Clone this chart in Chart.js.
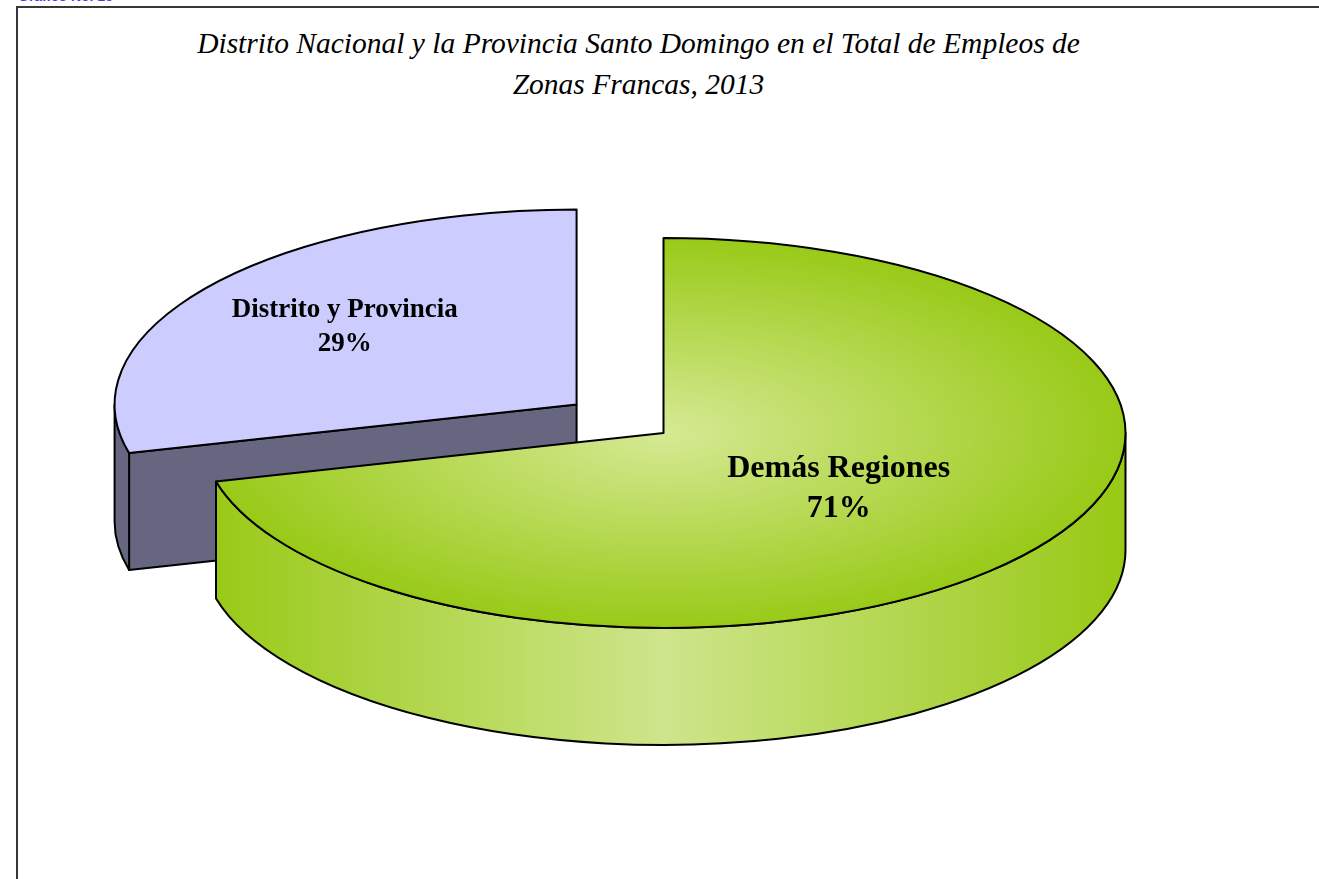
<!DOCTYPE html>
<html>
<head>
<meta charset="utf-8">
<script src="https://cdn.jsdelivr.net/npm/chart.js@4.4.0/dist/chart.umd.min.js"></script>
<style>
  body { margin: 0; width: 1319px; height: 879px; overflow: hidden; background: #fff; position: relative; }
  #caption { position: absolute; left: 18px; top: -12px; font: bold 14px "Liberation Sans", Arial, sans-serif; color: #3c3cf0; white-space: nowrap; }
  #frame { position: absolute; left: 16px; top: 6px; width: 1400px; height: 1000px; border: 2px solid #383838; }
  #title { position: absolute; left: 18px; width: 1241px; top: 23px; text-align: center;
           font: italic 29.5px "Liberation Serif", "Times New Roman", serif; line-height: 41px; color: #000; }
  #wrap { position: absolute; left: 0; top: -29px; width: 1319px; height: 924px; }
</style>
</head>
<body>
<div id="caption">Gráfico No. 15</div>
<div id="frame"></div>
<div id="title">Distrito Nacional y la Provincia Santo Domingo en el Total de Empleos de<br>Zonas Francas, 2013</div>
<div id="wrap"><canvas id="pie"></canvas></div>
<script>
// data
const regions = ['Demás Regiones', 'Distrito y Provincia'];
const shares = [71, 29];

// look of each slice
const topColors = [['#d6e994', '#99ca18'], ['#ccccff', '#ccccff']];
const wallColors = [
  [[0, '#98c914'], [0.5, '#cee58c'], [1, '#98c914']],
  [[0, '#666680'], [1, '#666680']]
];
const explode = [0, 110];
const labelFonts = [32, 27];
const labelDist = [0.48, 0.635];

const ctx = document.getElementById('pie');

// draws the tilted pie with its walls, using the arcs laid out by Chart.js
const pie3d = {
  id: 'pie3d',
  beforeDatasetsDraw(chart, args, opts) {
    const c = chart.ctx;
    const arcs = chart.getDatasetMeta(0).data;
    const k = opts.tilt, depth = opts.depth;
    const shift = (arc, i) => {
      const mid = (arc.startAngle + arc.endAngle) / 2;
      return { dx: Math.cos(mid) * opts.explode[i], dy: Math.sin(mid) * opts.explode[i] * k };
    };
    const order = arcs.map((a, i) => i).sort((a, b) => shift(arcs[a], a).dy - shift(arcs[b], b).dy);

    order.forEach(i => {
      const arc = arcs[i];
      const s = shift(arc, i);
      const cx = arc.x + s.dx, cy = arc.y + s.dy;
      const r = arc.outerRadius, a0 = arc.startAngle, a1 = arc.endAngle;
      const rim = a => [cx + r * Math.cos(a), cy + r * k * Math.sin(a)];
      c.save();
      c.lineWidth = opts.lineWidth;
      c.strokeStyle = opts.lineColor;
      c.lineJoin = 'round';

      const grad = c.createLinearGradient(cx - r, 0, cx + r, 0);
      opts.walls[i].forEach(([p, col]) => grad.addColorStop(p, col));

      // cut faces that look towards the viewer
      [[a0, a0 - Math.PI / 2], [a1, a1 + Math.PI / 2]].forEach(([a, n]) => {
        if (Math.sin(n) <= 0.01) return;
        const p = rim(a);
        c.beginPath();
        c.moveTo(cx, cy);
        c.lineTo(p[0], p[1]);
        c.lineTo(p[0], p[1] + depth);
        c.lineTo(cx, cy + depth);
        c.closePath();
        c.fillStyle = opts.walls[i][0][1];
        c.fill();
        c.stroke();
      });

      // outer wall, front half only
      for (let base = -2 * Math.PI; base <= 2 * Math.PI; base += 2 * Math.PI) {
        const s0 = Math.max(a0, base), s1 = Math.min(a1, base + Math.PI);
        if (s1 - s0 < 0.001) continue;
        c.beginPath();
        c.ellipse(cx, cy, r, r * k, 0, s0, s1);
        c.ellipse(cx, cy + depth, r, r * k, 0, s1, s0, true);
        c.closePath();
        c.fillStyle = grad;
        c.fill();
        c.stroke();
      }

      // top face
      c.save();
      c.translate(arc.x, arc.y);
      c.scale(1, k);
      c.translate(-arc.x, -arc.y);
      c.translate(s.dx, s.dy / k);
      arc.draw(c);
      c.beginPath();
      c.moveTo(arc.x, arc.y);
      c.arc(arc.x, arc.y, r, a0, a1);
      c.closePath();
      c.restore();
      c.stroke();
      c.restore();
    });
    return false;
  },
  afterDraw(chart, args, opts) {
    const c = chart.ctx;
    const arcs = chart.getDatasetMeta(0).data;
    const vals = chart.data.datasets[0].data;
    const total = vals.reduce((a, b) => a + b, 0);
    const k = opts.tilt;
    arcs.forEach((arc, i) => {
      const mid = (arc.startAngle + arc.endAngle) / 2;
      const d = opts.explode[i] + arc.outerRadius * labelDist[i];
      const x = arc.x + Math.cos(mid) * d;
      const y = arc.y + Math.sin(mid) * d * k;
      const fs = labelFonts[i];
      const gap = fs * 1.24, cap = fs * 0.4;
      c.save();
      c.font = 'bold ' + fs + 'px "Liberation Serif", "Times New Roman", serif';
      c.fillStyle = '#000';
      c.textAlign = 'center';
      c.textBaseline = 'alphabetic';
      const b1 = y - gap / 2 + cap / 2;
      c.fillText(chart.data.labels[i], x, b1);
      c.fillText(Math.round(vals[i] / total * 100) + '%', x, b1 + gap);
      c.restore();
    });
  }
};

new Chart(ctx, {
  type: 'pie',
  data: {
    labels: regions,
    datasets: [{
      data: shares,
      borderWidth: 0,
      backgroundColor: (cx) => {
        const cols = topColors[cx.dataIndex];
        const a = cx.chart.chartArea;
        if (!a) return cols[0];
        const x = (a.left + a.right) / 2, y = (a.top + a.bottom) / 2;
        const r = Math.min(a.right - a.left, a.bottom - a.top) / 2;
        const g = cx.chart.ctx.createRadialGradient(x, y, 0, x, y, r);
        g.addColorStop(0, cols[0]);
        g.addColorStop(1, cols[1]);
        return g;
      }
    }]
  },
  options: {
    responsive: true,
    maintainAspectRatio: false,
    animation: false,
    events: [],
    layout: { padding: { left: 8 } },
    plugins: {
      legend: { display: false },
      tooltip: { enabled: false },
      pie3d: { tilt: 0.422, depth: 117, explode: explode, walls: wallColors, lineWidth: 2, lineColor: '#000' }
    }
  },
  plugins: [pie3d]
});
</script>
</body>
</html>
